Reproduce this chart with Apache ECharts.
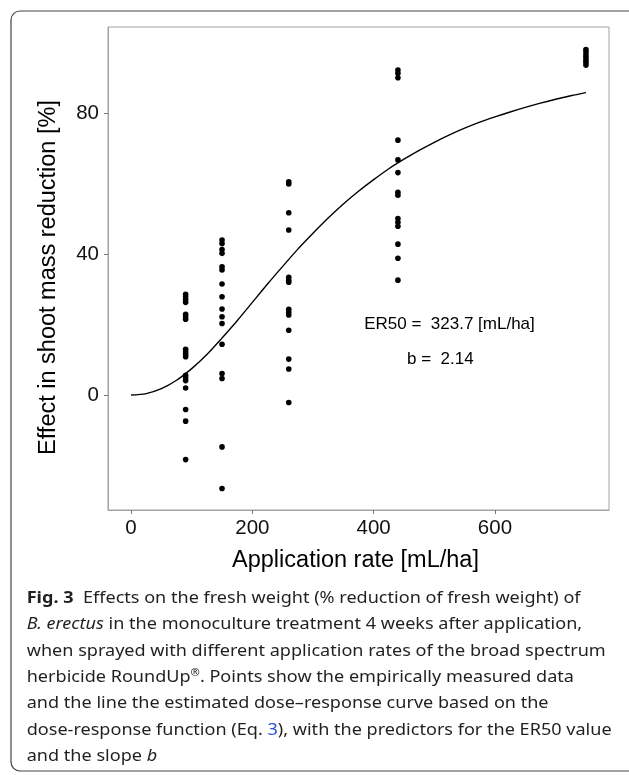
<!DOCTYPE html>
<html>
<head>
<meta charset="utf-8">
<script src="https://cdn.jsdelivr.net/npm/echarts@6/dist/echarts.min.js"></script>
<style>
  html, body { margin: 0; padding: 0; background: #fff; }
  #chart { width: 629px; height: 775px; }
</style>
</head>
<body>
<div id="chart"></div>
<script>
// application rates [mL/ha] and measured effects [%]
var rates = [90, 150, 260, 440, 750];
var effects90 = [28.6, 27.9, 27.1, 26.3, 22.9, 22.2, 21.5, 13.0, 12.3, 11.6, 10.9, 5.6, 4.9, 4.1, 2.0, -4.1, -7.4, -18.3];
var effects150 = [44.0, 43.0, 41.3, 40.2, 36.4, 35.5, 31.5, 27.9, 24.4, 22.2, 20.3, 14.4, 6.1, 4.7, -14.7, -26.5];
var effects260 = [60.5, 59.9, 51.7, 46.8, 33.4, 32.6, 32.0, 24.3, 23.5, 22.7, 18.4, 10.2, 7.4, -2.1];
var effects440 = [92.2, 91.3, 90.0, 72.3, 66.7, 63.1, 57.5, 56.7, 50.1, 49.0, 47.9, 42.8, 38.8, 32.6];
var effects750 = [98.0, 97.3, 96.5, 95.8, 95.0, 94.3, 93.6];

// fitted dose-response curve, every 25 mL/ha
var curveX = [0, 25, 50, 75, 100, 125, 150, 175, 200, 225, 250, 275, 300, 325, 350, 375, 400,
    425, 450, 475, 500, 525, 550, 575, 600, 625, 650, 675, 700, 725, 750];
var curveY = [0, 0.4, 1.8, 4.2, 7.5, 11.5, 16.2, 21.1, 26.3, 31.5, 36.5, 41.4, 45.9, 50.2, 54.2, 57.8, 61.1,
    64.2, 66.9, 69.4, 71.7, 73.8, 75.7, 77.4, 78.9, 80.3, 81.6, 82.8, 83.9, 84.9, 85.8];

// tick labels
var xTicks = [0, 200, 400, 600];
var yTicks = [0, 40, 80];

// text put into the panel (data coordinates)
var annotX = [525, 510];
var annotY = [20, 10];
var annotText = ["ER50 =  323.7 [mL/ha]", "b =  2.14"];

var captionLines = [
    "{bold|Fig. 3}  Effects on the fresh weight (% reduction of fresh weight) of",
    "{it|B. erectus} in the monoculture treatment 4 weeks after application,",
    "when sprayed with different application rates of the broad spectrum",
    "herbicide RoundUp{sup|®}. Points show the empirically measured data",
    "and the line the estimated dose\u2013response curve based on the",
    "dose-response function (Eq. {blue|3}), with the predictors for the ER50 value",
    "and the slope {it|b}"
];

var allEffects = [effects90, effects150, effects260, effects440, effects750];
var points = [];
rates.forEach(function (r, i) {
    allEffects[i].forEach(function (v) {
        points.push([r, v]);
    });
});
var curve = curveX.map(function (x, i) { return [x, curveY[i]]; });

// caption: the original face is a condensed sans, so squeeze a normal one to the measured width
var capFont = "Noto Sans";
var capSize = 16.5;
var ctx = document.createElement("canvas").getContext("2d");
ctx.font = capSize + "px '" + capFont + "'";
var capScale = 579 / ctx.measureText(captionLines[2]).width;

var graphics = [{
    type: "rect",
    shape: { x: 11, y: 11, width: 700, height: 760, r: 9 },
    style: { fill: "none", stroke: "#444", lineWidth: 1.2 },
    silent: true
}];
captionLines.forEach(function (line, i) {
    graphics.push({
        type: "text",
        x: 26.7,
        y: 598 + i * 26.4,
        scaleX: capScale,
        silent: true,
        style: {
            text: line,
            fontFamily: capFont,
            fontSize: capSize,
            fill: "#231f20",
            align: "left",
            verticalAlign: "middle",
            rich: {
                bold: { fontFamily: capFont, fontSize: capSize, fontWeight: "bold", fill: "#231f20" },
                it: { fontFamily: capFont, fontSize: capSize, fontStyle: "italic", fill: "#231f20" },
                blue: { fontFamily: capFont, fontSize: capSize, fill: "#2a4fd6" },
                sup: { fontFamily: capFont, fontSize: capSize * 0.62, fill: "#231f20", verticalAlign: "top", padding: [0, 0, 8, 0] }
            }
        }
    });
});

var myChart = echarts.init(document.getElementById("chart"));
var axisFont = "Liberation Sans";
var frameGray = "#a3a3a3";
var option = {
    animation: false,
    grid: {
        left: 108, top: 27, right: 20, bottom: 265,
        show: true, borderColor: frameGray, borderWidth: 1, backgroundColor: "#fff"
    },
    xAxis: {
        type: "value",
        min: -38, max: 788,
        name: "Application rate [mL/ha]",
        nameLocation: "middle",
        nameGap: 39,
        nameTextStyle: { fontFamily: axisFont, fontSize: 23.5, color: "#000", padding: [0, 6, 0, 0] },
        axisLine: { show: true, onZero: false, lineStyle: { color: frameGray, width: 1 } },
        axisTick: { show: true, length: 4, lineStyle: { color: "#777" }, customValues: xTicks },
        axisLabel: { fontFamily: axisFont, fontSize: 20.5, color: "#111", margin: 8, customValues: xTicks },
        splitLine: { show: false }
    },
    yAxis: {
        type: "value",
        min: -32.6, max: 104.4,
        name: "Effect in shoot mass reduction [%]",
        nameLocation: "middle",
        nameGap: 47,
        nameTextStyle: { fontFamily: axisFont, fontSize: 23.5, color: "#000", padding: [0, 18, 0, 0] },
        axisLine: { show: true, onZero: false, lineStyle: { color: frameGray, width: 1 } },
        axisTick: { show: true, length: 4, lineStyle: { color: "#777" }, customValues: yTicks },
        axisLabel: { fontFamily: axisFont, fontSize: 20.5, color: "#111", margin: 9, customValues: yTicks },
        splitLine: { show: false }
    },
    series: [
        {
            type: "scatter",
            data: points,
            symbolSize: 5.6,
            itemStyle: { color: "#000", opacity: 1 },
            silent: true
        },
        {
            type: "line",
            data: curve,
            smooth: 0.3,
            showSymbol: false,
            lineStyle: { color: "#000", width: 1.4 },
            silent: true
        }
    ],
    graphic: graphics
};
myChart.setOption(option);

// place the ER50 / b labels through the chart's own scales
annotText.forEach(function (t, i) {
    var p = myChart.convertToPixel({ gridIndex: 0 }, [annotX[i], annotY[i]]);
    graphics.push({
        type: "text",
        x: p[0],
        y: p[1],
        silent: true,
        style: {
            text: t,
            fontFamily: axisFont,
            fontSize: 17,
            fill: "#000",
            align: "center",
            verticalAlign: "middle"
        }
    });
});
myChart.setOption({ graphic: graphics });
</script>
</body>
</html>
